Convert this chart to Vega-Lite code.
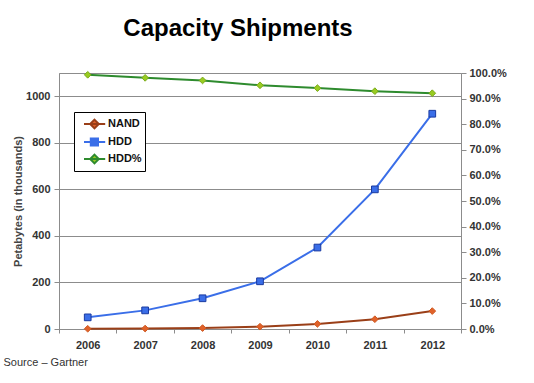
{
  "$schema": "https://vega.github.io/schema/vega-lite/v6.json",
  "autosize": {"type": "none"},
  "padding": {"left": 59, "top": 73, "right": 73, "bottom": 54},
  "width": 402,
  "height": 256,
  "background": "white",
  "config": {
    "font": "Liberation Sans",
    "view": {"stroke": "#8c8c8c", "strokeWidth": 1},
    "axis": {
      "labelFont": "Liberation Sans",
      "labelFontSize": 11,
      "labelFontWeight": "bold",
      "labelColor": "#333333",
      "domainColor": "#8c8c8c",
      "tickColor": "#8c8c8c",
      "gridColor": "#8c8c8c",
      "gridOpacity": 1
    },
    "legend": {
      "orient": "none",
      "legendX": 15,
      "legendY": 39,
      "fillColor": "white",
      "strokeColor": "#000000",
      "padding": 3,
      "rowPadding": -2,
      "symbolSize": 256,
      "symbolStrokeWidth": 2,
      "labelFontSize": 11,
      "labelFontWeight": "bold",
      "labelColor": "#111111",
      "labelOffset": 13,
      "labelLimit": 200
    }
  },
  "title": {
    "text": "Capacity Shipments",
    "fontSize": 24,
    "fontWeight": "bold",
    "color": "#000000",
    "anchor": "middle",
    "dx": -22,
    "offset": 26
  },
  "data": {
    "values": [
      {"year": "2006", "series": "NAND", "value": 1},
      {"year": "2007", "series": "NAND", "value": 2},
      {"year": "2008", "series": "NAND", "value": 4},
      {"year": "2009", "series": "NAND", "value": 10},
      {"year": "2010", "series": "NAND", "value": 22},
      {"year": "2011", "series": "NAND", "value": 42},
      {"year": "2012", "series": "NAND", "value": 77},
      {"year": "2006", "series": "HDD", "value": 50},
      {"year": "2007", "series": "HDD", "value": 80},
      {"year": "2008", "series": "HDD", "value": 132},
      {"year": "2009", "series": "HDD", "value": 205},
      {"year": "2010", "series": "HDD", "value": 350},
      {"year": "2011", "series": "HDD", "value": 600},
      {"year": "2012", "series": "HDD", "value": 925},
      {"year": "2006", "series": "HDD%", "value": 0.993},
      {"year": "2007", "series": "HDD%", "value": 0.981},
      {"year": "2008", "series": "HDD%", "value": 0.971},
      {"year": "2009", "series": "HDD%", "value": 0.952},
      {"year": "2010", "series": "HDD%", "value": 0.941},
      {"year": "2011", "series": "HDD%", "value": 0.929},
      {"year": "2012", "series": "HDD%", "value": 0.921}
    ]
  },
  "encoding": {
    "x": {
      "field": "year",
      "type": "ordinal",
      "scale": {"type": "band", "paddingInner": 0, "paddingOuter": 0},
      "axis": {
        "labelAngle": 0,
        "tickBand": "extent",
        "tickSize": 4,
        "labelPadding": 6,
        "title": "Source – Gartner",
        "titleAnchor": "start",
        "titleX": -56,
        "titleY": 33,
        "titleBaseline": "middle",
        "titleFontWeight": "normal",
        "titleFontSize": 11,
        "titleColor": "#333333"
      }
    }
  },
  "layer": [
    {
      "transform": [{"filter": "datum.series !== 'HDD%'"}],
      "encoding": {
        "y": {
          "field": "value",
          "type": "quantitative",
          "scale": {"domain": [0, 1100], "nice": false},
          "axis": {
            "orient": "left",
            "values": [0, 200, 400, 600, 800, 1000],
            "format": "d",
            "grid": true,
            "tickSize": 5,
            "labelPadding": 4,
            "title": "Petabytes (in thousands)",
            "titleFontSize": 11,
            "titleFontWeight": "bold",
            "titleColor": "#444444",
            "titlePadding": 2
          }
        }
      },
      "layer": [
        {
          "mark": {"type": "line", "strokeWidth": 2},
          "encoding": {
            "color": {
              "field": "series",
              "type": "nominal",
              "scale": {"domain": ["NAND", "HDD", "HDD%"], "range": ["#9a3f18", "#3a6ee8", "#2e8b2e"]},
              "legend": {
                "title": null,
                "encode": {
                  "symbols": {
                    "update": {
                      "shape": {"signal": "datum.value === 'HDD' ? 'M-0.25,0H0.6M1.5,0H2.4M0.6,-0.45H1.5V0.45H0.6Z' : 'M-0.25,0H2.4M1.06,-0.55L1.6,0L1.06,0.55L0.52,0Z'"},
                      "fill": {"signal": "datum.value === 'NAND' ? '#e0622a' : datum.value === 'HDD' ? '#3a6ee8' : '#99cc22'"},
                      "stroke": {"signal": "datum.value === 'NAND' ? '#d05a22' : datum.value === 'HDD' ? '#2a55c8' : '#3c9a2e'"},
                      "strokeWidth": {"value": 2},
                      "opacity": {"value": 1}
                    }
                  }
                }
              }
            }
          }
        },
        {
          "transform": [{"filter": "datum.series === 'NAND'"}],
          "mark": {"type": "point", "shape": "diamond", "filled": true, "size": 45, "opacity": 1, "fill": "#e0622a", "stroke": "#d05a22", "strokeWidth": 1}
        },
        {
          "transform": [{"filter": "datum.series === 'HDD'"}],
          "mark": {"type": "point", "shape": "square", "filled": true, "size": 45, "opacity": 1, "fill": "#3a6ee8", "stroke": "#1a3aa0", "strokeWidth": 1}
        }
      ]
    },
    {
      "transform": [{"filter": "datum.series === 'HDD%'"}],
      "encoding": {
        "y": {
          "field": "value",
          "type": "quantitative",
          "scale": {"domain": [0, 1], "nice": false},
          "axis": {
            "orient": "right",
            "values": [0, 0.1, 0.2, 0.3, 0.4, 0.5, 0.6, 0.7, 0.8, 0.9, 1],
            "format": ".1%",
            "grid": false,
            "tickSize": 5,
            "labelPadding": 3,
            "title": null
          }
        }
      },
      "layer": [
        {
          "mark": {"type": "line", "strokeWidth": 2},
          "encoding": {
            "color": {
              "field": "series",
              "type": "nominal",
              "scale": {"domain": ["NAND", "HDD", "HDD%"], "range": ["#9a3f18", "#3a6ee8", "#2e8b2e"]},
              "legend": {
                "title": null,
                "encode": {
                  "symbols": {
                    "update": {
                      "shape": {"signal": "datum.value === 'HDD' ? 'M-0.25,0H0.6M1.5,0H2.4M0.6,-0.45H1.5V0.45H0.6Z' : 'M-0.25,0H2.4M1.06,-0.55L1.6,0L1.06,0.55L0.52,0Z'"},
                      "fill": {"signal": "datum.value === 'NAND' ? '#e0622a' : datum.value === 'HDD' ? '#3a6ee8' : '#99cc22'"},
                      "stroke": {"signal": "datum.value === 'NAND' ? '#d05a22' : datum.value === 'HDD' ? '#2a55c8' : '#3c9a2e'"},
                      "strokeWidth": {"value": 2},
                      "opacity": {"value": 1}
                    }
                  }
                }
              }
            }
          }
        },
        {
          "mark": {"type": "point", "shape": "diamond", "filled": true, "size": 45, "opacity": 1, "fill": "#99cc22", "stroke": "#7aaa1a", "strokeWidth": 1}
        }
      ]
    }
  ],
  "resolve": {"scale": {"y": "independent"}}
}
